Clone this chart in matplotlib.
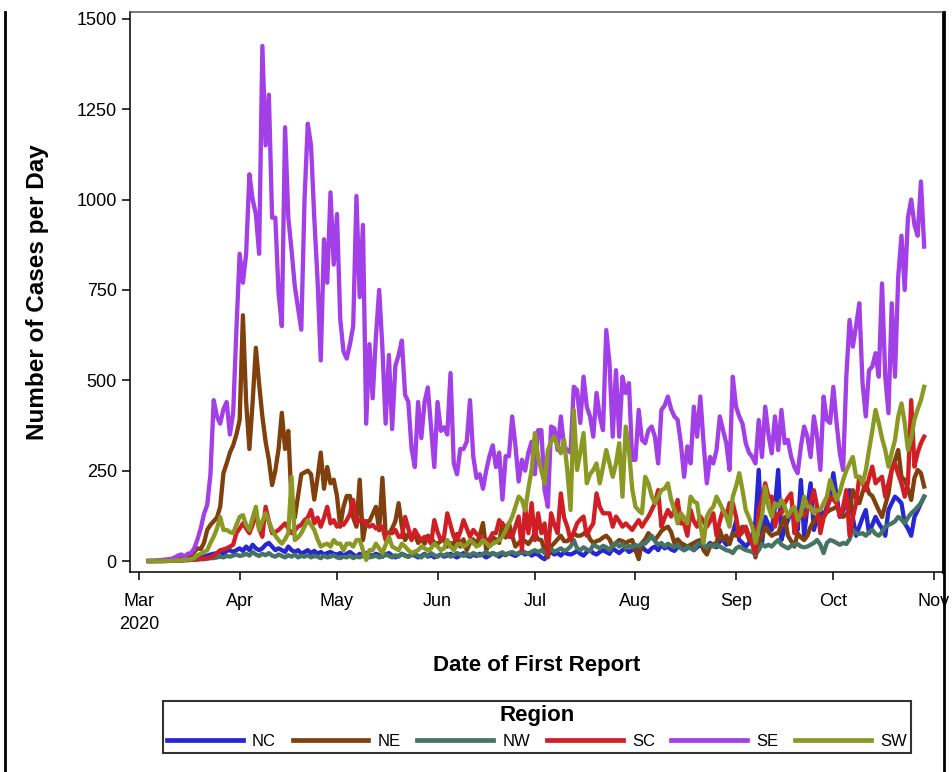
import pandas as pd
import matplotlib
matplotlib.use("Agg")
import matplotlib.pyplot as plt
import matplotlib.dates as mdates
from matplotlib.lines import Line2D

plt.rcParams["font.family"] = ["Liberation Sans", "DejaVu Sans"]

# daily counts from 2020-03-04, ten days per row
start = "2020-03-04"
regions = ["NC", "NE", "NW", "SC", "SE", "SW"]

nc = [0, 0, 0, 0, 0, 1, 1, 1, 2, 2,
      3, 3, 4, 5, 6, 8, 10, 12, 15, 18,
      20, 22, 25, 20, 28, 30, 25, 30, 35, 28,
      40, 30, 45, 35, 30, 35, 45, 50, 40, 30,
      35, 30, 25, 40, 30, 25, 30, 20, 25, 30,
      22, 28, 20, 25, 18, 22, 25, 20, 18, 22,
      15, 20, 25, 18, 12, 20, 15, 22, 18, 14,
      20, 16, 12, 18, 22, 15, 10, 14, 20, 16,
      12, 18, 15, 10, 14, 20, 12, 16, 10, 14,
      18, 12, 15, 20, 14, 10, 16, 22, 15, 12,
      18, 14, 20, 16, 10, 15, 22, 18, 12, 20,
      16, 22, 18, 14, 20, 25, 18, 22, 15, 20,
      18, 10, 5, 20, 25, 18, 22, 15, 25, 20,
      18, 22, 28, 20, 15, 25, 30, 22, 18, 25,
      30, 25, 20, 35, 28, 22, 30, 35, 25, 30,
      35, 28, 40, 30, 25, 35, 40, 30, 45, 35,
      40, 32, 28, 38, 45, 30, 35, 42, 30, 38,
      45, 35, 40, 50, 42, 38, 55, 58, 45, 50,
      77, 110, 58, 50, 40, 50, 70, 110, 252, 50,
      122, 100, 86, 150, 252, 58, 90, 113, 141, 120,
      86, 224, 70, 150, 215, 86, 120, 141, 122, 150,
      169, 243, 180, 122, 140, 160, 196, 120, 70, 95,
      120, 141, 77, 100, 122, 104, 90, 70, 141, 160,
      178, 170, 160, 104, 90, 70, 122, 140, 160, 178]

ne = [0, 0, 0, 1, 1, 2, 2, 3, 4, 5,
      5, 8, 10, 15, 25, 35, 33, 50, 86, 100,
      110, 120, 150, 243, 270, 300, 320, 350, 390, 680,
      440, 310, 440, 590, 490, 400, 330, 280, 210, 250,
      310, 410, 310, 360, 160, 120, 180, 240, 245, 250,
      240, 170, 230, 300, 200, 260, 215, 225, 180, 95,
      150, 180, 180, 120, 95, 225, 58, 110, 110, 130,
      150, 85, 230, 75, 75, 90, 110, 160, 95, 58,
      75, 60, 75, 50, 60, 48, 70, 65, 50, 48,
      55, 60, 40, 50, 45, 75, 40, 60, 30, 50,
      60, 45, 70, 105, 30, 48, 65, 60, 50, 105,
      65, 105, 70, 40, 50, 58, 55, 47, 60, 77,
      60, 58, 30, 10, 40, 50, 60, 70, 55, 55,
      65, 77, 70, 70, 75, 83, 60, 50, 55, 58,
      65, 70, 60, 40, 50, 58, 55, 50, 55, 58,
      30, 5, 50, 60, 77, 65, 58, 70, 83, 90,
      95, 80, 50, 60, 50, 45, 40, 45, 50, 55,
      58, 30, 18, 40, 47, 50, 86, 58, 70, 47,
      77, 70, 83, 95, 86, 60, 50, 10, 50, 70,
      95, 80, 70, 75, 77, 100, 122, 70, 55, 40,
      77, 65, 58, 70, 95, 110, 122, 122, 122, 135,
      141, 145, 150, 135, 122, 130, 132, 196, 175, 160,
      190, 215, 187, 180, 160, 140, 122, 155, 187, 252,
      280, 307, 233, 224, 200, 169, 230, 252, 243, 206]

nw = [0, 0, 0, 0, 0, 0, 0, 1, 1, 1,
      1, 2, 2, 3, 3, 4, 5, 5, 6, 8,
      8, 10, 12, 10, 14, 12, 15, 18, 14, 16,
      20, 15, 25, 18, 14, 20, 16, 22, 15, 12,
      18, 14, 10, 16, 12, 18, 10, 14, 12, 16,
      10, 14, 12, 8, 15, 10, 12, 16, 10, 8,
      12, 10, 15, 8, 12, 10, 14, 18, 10, 12,
      15, 10, 12, 18, 14, 10, 16, 12, 20, 14,
      12, 16, 20, 14, 10, 18, 15, 22, 16, 12,
      18, 15, 20, 12, 16, 22, 18, 14, 20, 16,
      22, 18, 15, 20, 25, 18, 22, 16, 20, 24,
      18, 22, 25, 20, 22, 28, 24, 20, 26, 30,
      25, 30, 22, 28, 33, 26, 30, 35, 28, 32,
      40, 58, 35, 30, 38, 32, 28, 45, 40, 35,
      42, 38, 30, 45, 50, 40, 47, 35, 42, 38,
      45, 40, 50, 48, 58, 70, 55, 45, 50, 40,
      48, 42, 38, 45, 35, 30, 40, 35, 30, 45,
      50, 42, 38, 45, 40, 45, 40, 35, 30, 28,
      22, 35, 40, 35, 30, 28, 25, 18, 30, 47,
      40, 45, 40, 50, 58, 45, 40, 35, 42, 47,
      47, 40, 38, 40, 45, 50, 58, 45, 22, 50,
      58, 55, 50, 45, 50, 47, 60, 86, 77, 75,
      77, 70, 80, 86, 75, 70, 80, 95, 100, 104,
      110, 122, 115, 104, 120, 132, 140, 150, 160, 178]

sc = [0, 0, 0, 0, 0, 0, 1, 1, 1, 2,
      2, 3, 3, 4, 5, 5, 6, 7, 8, 10,
      15, 22, 30, 32, 35, 40, 45, 77, 90, 104,
      90, 77, 100, 132, 90, 67, 150, 110, 77, 80,
      86, 95, 104, 90, 77, 85, 95, 100, 113, 120,
      141, 104, 120, 95, 120, 150, 104, 113, 95, 104,
      100, 113, 130, 169, 104, 113, 113, 104, 95, 100,
      90, 95, 95, 58, 77, 77, 86, 67, 67, 122,
      90, 58, 86, 70, 58, 67, 60, 48, 113, 80,
      58, 67, 132, 100, 67, 58, 80, 113, 90, 67,
      86, 75, 67, 58, 58, 60, 77, 77, 113, 100,
      95, 67, 67, 95, 123, 30, 150, 77, 160, 58,
      132, 77, 104, 18, 132, 100, 77, 187, 120, 95,
      58, 80, 104, 115, 123, 70, 90, 104, 187, 150,
      132, 132, 132, 95, 123, 110, 95, 104, 95, 86,
      100, 113, 95, 110, 123, 141, 160, 196, 95, 120,
      141, 123, 140, 169, 104, 104, 70, 141, 110, 95,
      123, 110, 95, 110, 132, 70, 110, 141, 123, 160,
      160, 123, 70, 80, 95, 70, 50, 22, 141, 170,
      215, 178, 178, 95, 132, 132, 160, 175, 187, 77,
      110, 141, 123, 140, 160, 196, 150, 77, 120, 141,
      178, 170, 160, 123, 150, 196, 70, 120, 160, 233,
      215, 196, 230, 261, 215, 225, 233, 178, 215, 252,
      270, 240, 215, 178, 215, 445, 261, 300, 326, 344]

se = [0, 0, 1, 2, 3, 4, 5, 6, 10, 15,
      18, 12, 20, 22, 35, 60, 90, 130, 155, 240,
      445, 400, 380, 420, 440, 350, 410, 640, 850, 770,
      850, 1070, 1000, 960, 850, 1425, 1150, 1290, 950, 950,
      740, 650, 1200, 950, 860, 760, 700, 640, 1000, 1210,
      1150, 950, 780, 555, 890, 770, 1020, 820, 960, 670,
      580, 560, 600, 650, 1010, 730, 930, 380, 600, 450,
      620, 750, 590, 380, 570, 365, 540, 570, 610, 460,
      440, 310, 260, 440, 340, 440, 480, 370, 260, 440,
      360, 370, 350, 520, 270, 240, 310, 310, 330, 445,
      290, 230, 240, 200, 250, 290, 320, 260, 300, 170,
      290, 290, 400, 320, 220, 280, 250, 300, 330, 240,
      362, 362, 196, 150, 372, 367, 307, 400, 317, 307,
      300, 482, 473, 382, 510, 427, 400, 344, 465, 400,
      362, 639, 547, 344, 528, 344, 510, 465, 492, 280,
      280, 418, 335, 326, 362, 372, 344, 270, 418, 430,
      455, 420, 400, 391, 326, 233, 317, 270, 427, 344,
      455, 326, 215, 288, 270, 307, 400, 362, 326, 252,
      510, 427, 400, 380, 326, 300, 288, 270, 390, 288,
      427, 350, 298, 400, 307, 418, 326, 335, 288, 260,
      243, 317, 372, 344, 288, 400, 344, 252, 455, 390,
      382, 482, 382, 298, 252, 510, 667, 593, 650, 713,
      492, 400, 528, 538, 575, 510, 768, 510, 409, 713,
      510, 787, 900, 750, 950, 1000, 930, 900, 1050, 870]

sw = [0, 0, 0, 0, 0, 0, 0, 1, 1, 2,
      2, 3, 4, 5, 8, 16, 20, 25, 30, 50,
      67, 90, 122, 86, 86, 80, 77, 100, 122, 127,
      100, 86, 120, 150, 86, 110, 132, 110, 86, 70,
      58, 48, 60, 77, 233, 58, 65, 77, 95, 113,
      100, 86, 60, 40, 45, 48, 40, 58, 48, 48,
      30, 48, 48, 40, 58, 58, 30, 3, 30, 30,
      48, 35, 22, 45, 67, 40, 35, 30, 48, 40,
      30, 22, 26, 30, 40, 35, 30, 35, 48, 40,
      30, 35, 58, 40, 30, 45, 48, 40, 45, 58,
      50, 40, 45, 58, 50, 40, 48, 52, 58, 67,
      85, 104, 122, 150, 178, 169, 140, 200, 252, 354,
      288, 250, 215, 307, 330, 344, 317, 298, 335, 250,
      141, 418, 252, 300, 354, 215, 240, 252, 270, 215,
      260, 307, 270, 233, 270, 326, 178, 372, 307, 200,
      150, 140, 132, 233, 215, 180, 160, 178, 196, 200,
      215, 170, 141, 104, 132, 120, 104, 178, 165, 160,
      100, 50, 123, 140, 150, 178, 160, 141, 123, 95,
      178, 206, 243, 196, 141, 120, 95, 50, 90, 123,
      206, 150, 123, 160, 150, 169, 150, 123, 140, 150,
      113, 130, 178, 150, 150, 132, 141, 141, 160, 178,
      224, 196, 169, 190, 224, 250, 270, 288, 233, 233,
      215, 250, 307, 360, 418, 382, 340, 307, 261, 300,
      335, 400, 436, 382, 307, 340, 391, 420, 445, 482]

series = {"NC": nc, "NE": ne, "NW": nw, "SC": sc, "SE": se, "SW": sw}
colors = {"NC": "#2626d4", "NE": "#80400e", "NW": "#467462", "SC": "#d01e24",
          "SE": "#a23fe6", "SW": "#8a9824"}

fig = plt.figure(figsize=(9.53, 7.72), dpi=100)
ax = fig.add_axes([130 / 953, 1 - 572 / 772, 813 / 953, 560 / 772])

for r in regions:
    vals = series[r]
    dates = pd.date_range(start, periods=len(vals), freq="D")
    ax.plot(dates, vals, color=colors[r], lw=3.1, solid_joinstyle="round", label=r)

ax.set_xlim(pd.Timestamp("2020-03-01") - pd.Timedelta(days=2.8),
            pd.Timestamp("2020-11-01") + pd.Timedelta(days=2.8))
ax.set_ylim(-30.4, 1519)
ax.set_yticks([0, 250, 500, 750, 1000, 1250, 1500])

ax.xaxis.set_major_locator(mdates.MonthLocator())


def month_fmt(x, pos=None):
    d = mdates.num2date(x)
    if d.month == 3:
        return "Mar\n2020"
    return d.strftime("%b")


ax.xaxis.set_major_formatter(plt.FuncFormatter(month_fmt))
ax.tick_params(direction="out", length=6, width=1.1, labelsize=13, colors="black")
ax.tick_params(axis="x", pad=9)
for lab in ax.get_xticklabels():
    lab.set_linespacing(1.45)

for side in ["left", "bottom", "top"]:
    ax.spines[side].set_linewidth(1.1)
ax.spines["top"].set_color("#555555")
ax.spines["right"].set_linewidth(2.0)

ax.set_ylabel("Number of Cases per Day", fontsize=17.5, fontweight="bold")
ax.set_xlabel("Date of First Report", fontsize=16, fontweight="bold")
ax.yaxis.set_label_coords((37 - 130) / 813, 0.5)
ax.xaxis.set_label_coords(0.5, (572 - 665) / 560)
ax.yaxis.label.set_verticalalignment("center")
ax.xaxis.label.set_verticalalignment("center")

# page frame lines
fig.add_artist(Line2D([5 / 953, 5 / 953], [0, 1 - 12 / 772], color="black", lw=2.0))
fig.add_artist(Line2D([944 / 953, 944 / 953], [0, 1 - 12 / 772], color="black", lw=2.0))

handles = [Line2D([], [], color=colors[r], lw=3.4) for r in regions]
leg = fig.legend(handles, regions, loc="center", ncol=6,
                 bbox_to_anchor=(537 / 953, 1 - 727 / 772),
                 title="Region", fontsize=12,
                 title_fontproperties={"weight": "bold", "size": 16},
                 frameon=True, fancybox=False, edgecolor="black",
                 handlelength=4.55, handletextpad=0.55, columnspacing=1.0,
                 borderpad=0.25, borderaxespad=0)
leg.get_frame().set_linewidth(1.5)

fig.savefig("out.png", dpi=100)
